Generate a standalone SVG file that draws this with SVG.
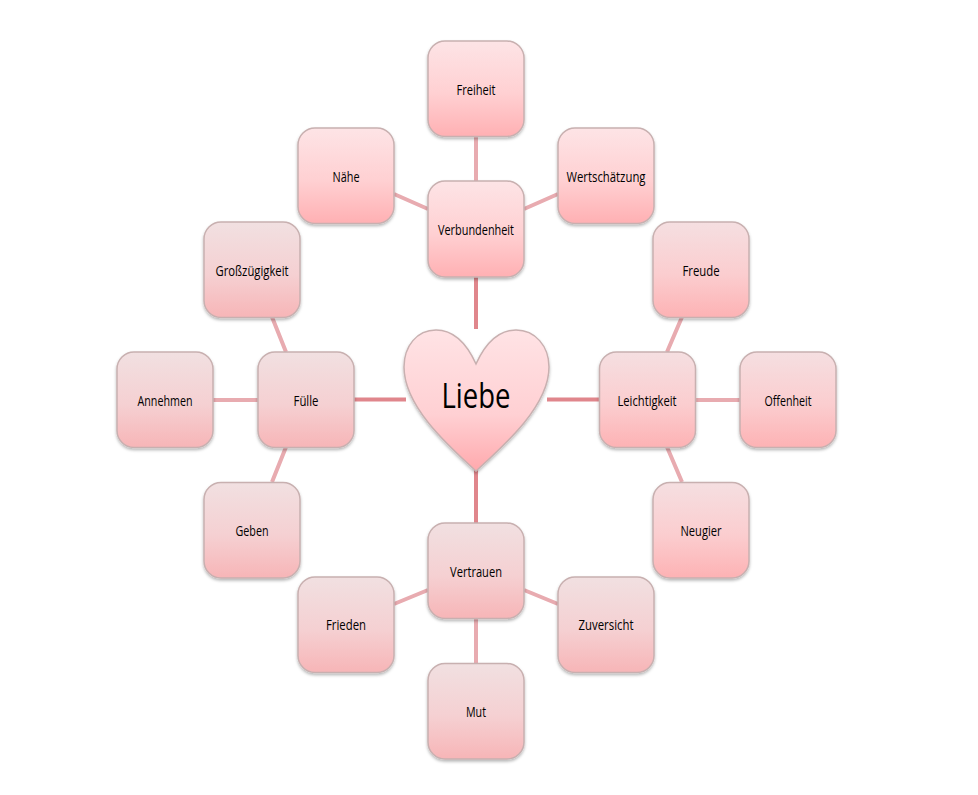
<svg xmlns="http://www.w3.org/2000/svg" width="978" height="795" viewBox="0 0 978 795">
<defs>
<linearGradient id="gA" x1="0" y1="0" x2="0" y2="1"><stop offset="0" stop-color="#fde4e6"/><stop offset="0.55" stop-color="#ffd0d2"/><stop offset="1" stop-color="#ffb0b3"/></linearGradient>
<linearGradient id="gB" x1="0" y1="0" x2="0" y2="1"><stop offset="0" stop-color="#f5dfe1"/><stop offset="0.55" stop-color="#fbcdcf"/><stop offset="1" stop-color="#fdb2b4"/></linearGradient>
<linearGradient id="gC" x1="0" y1="0" x2="0" y2="1"><stop offset="0" stop-color="#f1e0e1"/><stop offset="0.55" stop-color="#f5d0d2"/><stop offset="1" stop-color="#f7b5b7"/></linearGradient>
<linearGradient id="gH" x1="0" y1="0" x2="0" y2="1"><stop offset="0" stop-color="#ffe3e5"/><stop offset="0.6" stop-color="#ffd0d3"/><stop offset="1" stop-color="#ffa9ad"/></linearGradient>
<filter id="sh" x="-15%" y="-15%" width="130%" height="135%"><feDropShadow dx="0" dy="2" stdDeviation="1.6" flood-color="#000" flood-opacity="0.28"/></filter>
</defs>
<style>
.n{stroke:#c8b0b0;stroke-width:1.5;filter:url(#sh)}
.a{fill:url(#gA)}.b{fill:url(#gB)}.c{fill:url(#gC)}
text{font-family:"Open Sans","Liberation Sans",sans-serif;font-size:14.500px;fill:#000;text-anchor:middle}
.c1{stroke:#e0868c;stroke-width:4;fill:none}
.c2{stroke:#e8abb0;stroke-width:4;fill:none}
</style>
<g id="connectors">
<path class="c1" d="M476 277V329M354 399.500H406M547 399.500H600M476 470V523"/>
<path class="c2" d="M476 136V181M394 194L428 209M524 209L558 194M272 317L286 352M213 400H258M286 447L272 482M682 317L667 352M695 400H740M667 447L682 482M394 604L428 590M524 590L558 604M476 618V663"/>
</g>
<g id="n-liebe"><path class="n" fill="url(#gH)" d="M476 364C466 342 452 330 436 330C417 330 404 346 404 367C404 405 445 443 476 471C507 443 549 405 549 367C549 346 535 330 516 330C500 330 486 342 476 364Z"/><text x="476" y="408" style="font-size:35px" textLength="69" lengthAdjust="spacingAndGlyphs">Liebe</text></g>
<g id="n-freiheit"><rect class="n a" x="428" y="41" width="96" height="95.500" rx="17"/><text x="476" y="95" textLength="39" lengthAdjust="spacingAndGlyphs">Freiheit</text></g>
<g id="n-naehe"><rect class="n a" x="298" y="128" width="96" height="95.500" rx="17"/><text x="346" y="182" textLength="27" lengthAdjust="spacingAndGlyphs">Nähe</text></g>
<g id="n-wert"><rect class="n a" x="558" y="128" width="96" height="95.500" rx="17"/><text x="606" y="182" textLength="79" lengthAdjust="spacingAndGlyphs">Wertschätzung</text></g>
<g id="n-verb"><rect class="n a" x="428" y="181" width="96" height="96" rx="17"/><text x="476" y="235" textLength="76" lengthAdjust="spacingAndGlyphs">Verbundenheit</text></g>
<g id="n-gross"><rect class="n c" x="204" y="222" width="96" height="95.500" rx="17"/><text x="252" y="276" textLength="73" lengthAdjust="spacingAndGlyphs">Großzügigkeit</text></g>
<g id="n-freude"><rect class="n b" x="653" y="222" width="96" height="95.500" rx="17"/><text x="701" y="276" textLength="37" lengthAdjust="spacingAndGlyphs">Freude</text></g>
<g id="n-fuelle"><rect class="n c" x="258" y="352" width="96" height="95.500" rx="17"/><text x="306" y="406" textLength="25" lengthAdjust="spacingAndGlyphs">Fülle</text></g>
<g id="n-annehmen"><rect class="n c" x="117" y="352" width="96" height="95.500" rx="17"/><text x="165" y="406" textLength="55" lengthAdjust="spacingAndGlyphs">Annehmen</text></g>
<g id="n-leicht"><rect class="n b" x="599.500" y="352" width="96" height="95.500" rx="17"/><text x="647" y="406" textLength="59" lengthAdjust="spacingAndGlyphs">Leichtigkeit</text></g>
<g id="n-offen"><rect class="n b" x="740" y="352" width="96" height="95.500" rx="17"/><text x="788" y="406" textLength="47" lengthAdjust="spacingAndGlyphs">Offenheit</text></g>
<g id="n-geben"><rect class="n c" x="204" y="482.500" width="96" height="95.500" rx="17"/><text x="252" y="536" textLength="33" lengthAdjust="spacingAndGlyphs">Geben</text></g>
<g id="n-neugier"><rect class="n b" x="653" y="482.500" width="96" height="95.500" rx="17"/><text x="701" y="536" textLength="41" lengthAdjust="spacingAndGlyphs">Neugier</text></g>
<g id="n-vertrauen"><rect class="n c" x="428" y="523" width="96" height="95.500" rx="17"/><text x="476" y="577" textLength="52" lengthAdjust="spacingAndGlyphs">Vertrauen</text></g>
<g id="n-frieden"><rect class="n c" x="298" y="577" width="96" height="95.500" rx="17"/><text x="346" y="630" textLength="40" lengthAdjust="spacingAndGlyphs">Frieden</text></g>
<g id="n-zuversicht"><rect class="n c" x="558" y="577" width="96" height="95.500" rx="17"/><text x="606" y="630" textLength="55" lengthAdjust="spacingAndGlyphs">Zuversicht</text></g>
<g id="n-mut"><rect class="n c" x="428" y="663.500" width="96" height="95.500" rx="17"/><text x="476" y="717" textLength="20" lengthAdjust="spacingAndGlyphs">Mut</text></g>
</svg>
